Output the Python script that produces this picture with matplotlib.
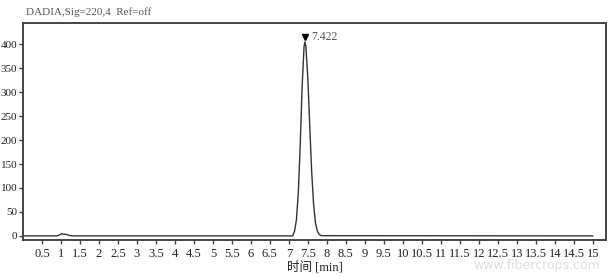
"""
HPLC chromatogram (DADIA, Sig=220,4) redrawn with matplotlib.
"""
import matplotlib
matplotlib.use("Agg")
import matplotlib.pyplot as plt

plt.rcParams["font.family"] = ["Liberation Serif", "Noto Sans CJK SC", "DejaVu Sans"]

# ── data ──────────────────────────────────────────────────────────────────────
time_min = [0.0, 0.9, 0.97, 1.02, 1.08, 1.15, 1.22, 1.3, 7.1, 7.15, 7.2, 7.25, 7.3,
            7.35, 7.4, 7.422, 7.45, 7.5, 7.55, 7.6, 7.65, 7.7, 7.75, 7.8, 7.85, 15.0]
signal = [0.0, 0.0, 2.5, 4.5, 3.5, 3.0, 1.0, 0.0, 0.0, 10, 34, 92, 192,
          313, 395, 405, 394, 328, 229, 135, 67, 27, 10, 3, 0.5, 0.0]

peak_time = 7.422
peak_label = "7.422"

xticks = [0.5 * i for i in range(1, 31)]
xtick_labels = [("%g" % v) for v in xticks]
yticks = [0, 50, 100, 150, 200, 250, 300, 350, 400]

W, H = 610, 277
fig = plt.figure(figsize=(W / 100, H / 100), dpi=100)
ax = fig.add_axes([23 / W, 1 - 239.5 / H, (606 - 23) / W, (239.5 - 22.7) / H])

ax.plot(time_min, signal, color="#333333", lw=1.0)
ax.plot([peak_time], [416], marker="v", color="black", ms=5)
ax.text(peak_time + 0.18, 416, peak_label, color="#555555", fontsize=8.5,
        va="center", ha="left")

ax.set_xlim(0, 15.35)
ax.set_ylim(-7.5, 445)
ax.set_xticks(xticks)
ax.set_xticklabels(xtick_labels)
ax.set_yticks(yticks)

for s in ax.spines.values():
    s.set_color("#444444")
    s.set_linewidth(1.4)
ax.tick_params(axis="both", direction="out", length=3, width=1.0,
               colors="#444444", labelcolor="#222222", labelsize=9, pad=2)
ax.tick_params(axis="x", pad=3)
ax.tick_params(axis="y", labelsize=8, pad=1)

ax.set_xlabel("时间 [min]", fontsize=9, color="#222222", labelpad=1)

fig.text(26 / W, 1 - 12 / H, "DADIA,Sig=220,4  Ref=off", fontsize=8,
         color="#555555", va="center", ha="left")

# faint watermark at bottom right
fig.text(600 / W, 1 - 266 / H, "www.fibercrops.com", fontsize=9,
         color="#dddddd", ha="right", va="center", family="DejaVu Sans")

fig.savefig("out.png", dpi=100, facecolor="white")
